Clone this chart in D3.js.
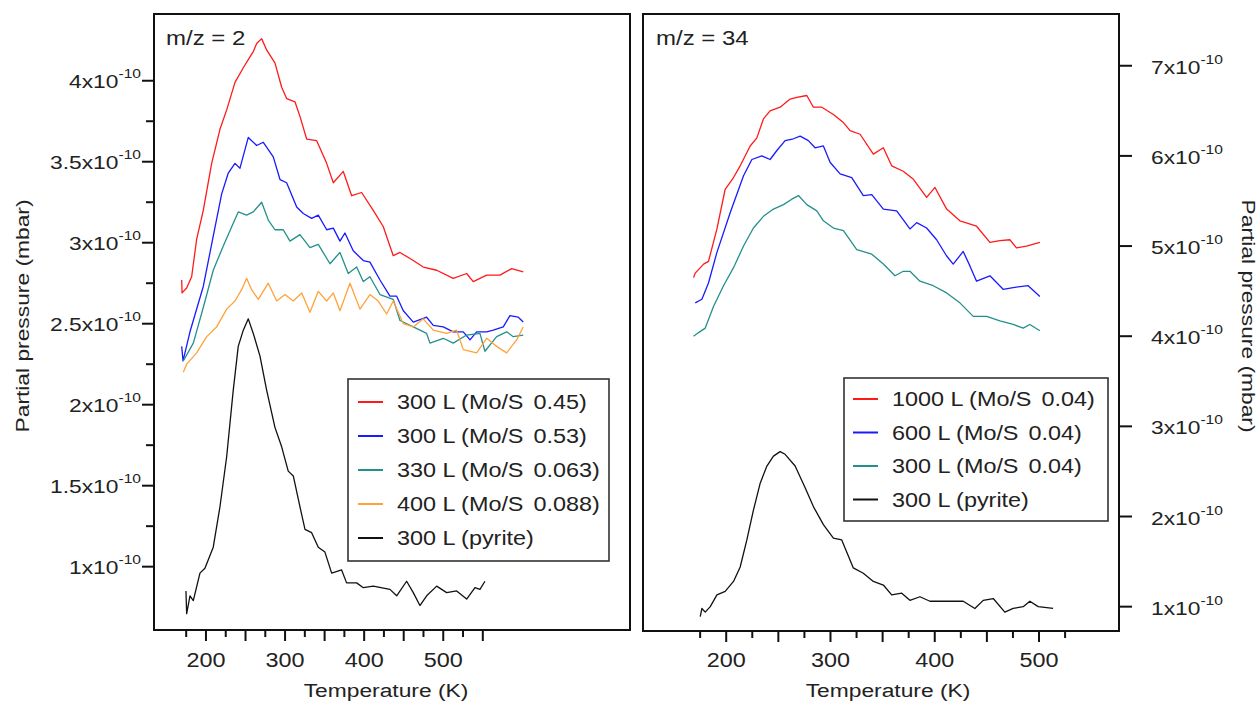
<!DOCTYPE html>
<html>
<head>
<meta charset="utf-8">
<script src="https://cdn.jsdelivr.net/npm/d3@7"></script>
<style>
  body { margin: 0; background: #fff; }
  svg { display: block; }
  text { font-family: "Liberation Sans", Arial, sans-serif; fill: #222; }
</style>
</head>
<body>
<svg id="chart" width="1259" height="704"></svg>
<script>
// TPD traces: [temperature K, partial pressure in units of 1e-10 mbar]

// m/z = 2
const m2Mo045 = [[169.3,2.77],[169.8,2.69],[175.6,2.72],[181.9,2.79],[188.2,3.02],[196.6,3.20],[207.2,3.49],[217.7,3.70],[226.2,3.82],[236.7,3.99],[247.2,4.08],[253.5,4.13],[259.8,4.18],[264.1,4.23],[270.4,4.26],[276.7,4.19],[287.2,4.11],[295.7,3.96],[302,3.89],[312.5,3.87],[318.8,3.78],[327.3,3.64],[340,3.63],[352.6,3.49],[361,3.37],[373.6,3.44],[384.2,3.29],[396.8,3.31],[411.5,3.20],[424.1,3.10],[436.8,2.92],[445.3,2.94],[462.1,2.89],[474.7,2.85],[491.7,2.83],[512.6,2.78],[529.6,2.81],[537.9,2.76],[554.9,2.80],[571.7,2.80],[586.5,2.84],[601.1,2.82]];
const m2Mo053 = [[169.3,2.36],[171,2.27],[179.8,2.45],[196.6,2.73],[209.2,3.04],[219.8,3.30],[228.2,3.43],[236.7,3.49],[243,3.46],[253.5,3.65],[264.1,3.60],[272.5,3.62],[285.1,3.53],[293.6,3.39],[302,3.37],[314.7,3.22],[323,3.18],[333.6,3.15],[342,3.17],[352.6,3.08],[361,3.09],[369.4,3.01],[375.7,3.06],[386.2,2.95],[398.9,2.89],[407.3,2.88],[420,2.77],[432.6,2.67],[441.1,2.67],[449.5,2.58],[462.1,2.51],[479,2.54],[487.4,2.49],[500,2.48],[512.6,2.45],[525.3,2.45],[533.8,2.40],[542.2,2.45],[554.9,2.45],[563.2,2.46],[575.9,2.48],[584.3,2.55],[594.8,2.54],[601.1,2.51]];
const m2Mo063 = [[171.3,2.27],[184,2.38],[196.6,2.60],[209.2,2.83],[221.9,2.98],[234.5,3.12],[240.8,3.19],[251.4,3.17],[259.8,3.19],[270.4,3.25],[278.8,3.14],[287.2,3.08],[297.7,3.08],[306.2,3.01],[318.8,3.05],[331.5,2.97],[342,2.99],[356.8,2.87],[369.4,2.94],[379.9,2.81],[390.5,2.85],[398.9,2.76],[407.3,2.79],[420,2.68],[436.8,2.65],[445.3,2.52],[462.1,2.48],[479,2.44],[483.2,2.38],[500,2.41],[512.6,2.38],[529.6,2.43],[546.4,2.44],[552.7,2.33],[567.5,2.42],[580.1,2.45],[588.5,2.42],[601.1,2.43]];
const m2Mo088 = [[171.3,2.20],[175.6,2.25],[188.2,2.32],[200.9,2.42],[213.5,2.48],[226.2,2.59],[236.7,2.64],[245.1,2.71],[251.4,2.78],[257.8,2.71],[266.1,2.65],[278.8,2.75],[289.4,2.64],[299.9,2.68],[310.4,2.64],[321,2.69],[331.5,2.57],[342,2.70],[352.6,2.64],[361,2.69],[369.4,2.58],[382.1,2.75],[394.7,2.59],[407.3,2.68],[417.8,2.64],[428.4,2.56],[436.8,2.64],[449.5,2.50],[462.1,2.48],[474.7,2.53],[487.4,2.46],[504.3,2.44],[516.9,2.46],[525.3,2.34],[542.2,2.32],[554.9,2.41],[567.5,2.36],[580.1,2.32],[592.8,2.40],[601.1,2.48]];
const m2Pyrite = [[174.7,0.85],[175.6,0.71],[179.8,0.82],[184,0.79],[192.4,0.96],[198.7,0.99],[209.2,1.12],[217.7,1.37],[226.2,1.68],[234.5,2.09],[240.8,2.36],[247.2,2.46],[253.5,2.53],[259.8,2.44],[268.3,2.30],[276.7,2.09],[287.2,1.86],[295.7,1.74],[304,1.59],[310.4,1.56],[318.8,1.37],[325.2,1.23],[333.6,1.21],[342,1.12],[350.4,1.09],[358.9,0.96],[371.5,0.98],[377.8,0.90],[390.5,0.90],[398.9,0.87],[411.5,0.88],[432.6,0.86],[441.1,0.82],[453.7,0.91],[462.1,0.84],[470.5,0.76],[479,0.82],[491.7,0.88],[504.3,0.84],[516.9,0.85],[529.6,0.80],[540.1,0.87],[546.4,0.86],[552.7,0.91]];

// m/z = 34
const m34L1000 = [[168.7,4.65],[170.3,4.70],[178.3,4.80],[183,4.83],[191.1,5.19],[199,5.63],[207,5.76],[213.4,5.89],[223,6.11],[229.4,6.20],[235.7,6.41],[242.1,6.50],[251.7,6.54],[261.3,6.63],[267.7,6.65],[277.3,6.67],[283.6,6.54],[291.7,6.54],[302.8,6.46],[312.4,6.37],[318.8,6.28],[328.4,6.24],[341.1,6.02],[350.7,6.09],[358.7,5.89],[369.8,5.83],[379.5,5.74],[392.2,5.54],[400.2,5.65],[411.4,5.41],[424.1,5.28],[440.1,5.22],[452.9,5.04],[462.5,5.06],[472,5.07],[478.4,4.98],[488,5.00],[500.8,5.04]];
const m34L600 = [[170.3,4.37],[176.7,4.41],[183,4.59],[191.1,4.93],[203.8,5.37],[216.6,5.78],[224.6,5.96],[234.2,6.00],[242.1,5.96],[248.6,6.06],[256.5,6.17],[264.5,6.19],[270.9,6.22],[278.8,6.17],[285.2,6.09],[293.2,6.11],[299.6,5.93],[309.2,5.80],[320.4,5.76],[331.5,5.56],[339.6,5.57],[350.7,5.41],[363.5,5.39],[376.2,5.19],[382.7,5.26],[392.2,5.20],[401.8,5.07],[411.4,4.89],[417.7,4.80],[427.3,4.94],[433.7,4.78],[440.1,4.61],[452.9,4.67],[465.6,4.52],[475.2,4.54],[489.6,4.56],[500.8,4.44]];
const m34L300 = [[168.7,4.00],[173.5,4.04],[179.9,4.09],[187.8,4.33],[197.4,4.56],[207,4.76],[216.6,5.00],[226.1,5.20],[235.7,5.33],[245.3,5.41],[254.9,5.46],[262.9,5.52],[269.3,5.56],[277.3,5.46],[286.9,5.39],[293.2,5.28],[302.8,5.20],[312.4,5.17],[325.2,4.96],[339.6,4.91],[350.7,4.80],[361.9,4.67],[369.8,4.72],[376.2,4.72],[385.8,4.61],[398.6,4.56],[411.4,4.48],[424.1,4.37],[436.9,4.22],[449.7,4.22],[462.5,4.17],[475.2,4.13],[484.8,4.09],[491.2,4.13],[500.8,4.06]];
const m34Pyrite = [[175.1,0.89],[176.7,0.98],[179.9,0.94],[184.7,1.00],[191.1,1.13],[199,1.17],[207,1.28],[213.4,1.44],[219.8,1.74],[226.1,2.07],[232.6,2.37],[239,2.56],[245.3,2.67],[251.7,2.72],[256.5,2.69],[266.1,2.56],[275.7,2.32],[283.6,2.11],[293.2,1.91],[302.8,1.76],[310.8,1.74],[321.9,1.43],[331.5,1.37],[341.1,1.28],[350.7,1.24],[358.7,1.13],[368.3,1.15],[376.2,1.07],[385.8,1.11],[395.4,1.06],[411.4,1.06],[427.3,1.06],[438.5,0.98],[446.5,1.07],[456.1,1.09],[467.2,0.94],[475.2,0.98],[484.8,1.00],[491.2,1.06],[499.2,1.00],[513.5,0.98]];

// legend entries: [dose, sample] -> "dose (sample)"
const m2Labels = [['300 L (Mo/S', '0.45)'], ['300 L (Mo/S', '0.53)'], ['330 L (Mo/S', '0.063)'], ['400 L (Mo/S', '0.088)'], ['300 L (pyrite)', '']];
const m34Labels = [['1000 L (Mo/S', '0.04)'], ['600 L (Mo/S', '0.04)'], ['300 L (Mo/S', '0.04)'], ['300 L (pyrite)', '']];
const m2Colors = ['#ff1a1a', '#1a1aff', '#23908c', '#ffa23a', '#111'];
const m34Colors = ['#ff1a1a', '#1a1aff', '#23908c', '#111'];

const xLabelTicks = [200, 300, 400, 500];
const m2YTicks = [1, 1.5, 2, 2.5, 3, 3.5, 4];
const m2YMinor = [1.25, 1.75, 2.25, 2.75, 3.25, 3.75];
const m34YTicks = [1, 2, 3, 4, 5, 6, 7];

const SX = 1.2;           // horizontal stretch of the lettering
const FS = 19;

const svg = d3.select('#chart');

function txt(g, x, y, str, o = {}) {
  const t = g.append('text')
    .attr('transform', `translate(${x},${y}) rotate(${o.rot || 0}) scale(${SX},1)`)
    .attr('font-size', o.size || FS)
    .attr('text-anchor', o.anchor || 'start');
  if (str != null) t.text(str);
  return t;
}

const panels = [
  {
    frame: [154, 14, 630, 630], xDom: [134.3, 736.1], yDom: [0.609, 4.412],
    xTicks: d3.range(175, 551, 25), yTicks: m2YTicks, yMinor: m2YMinor, side: 'left',
    series: [m2Mo045, m2Mo053, m2Mo063, m2Mo088, m2Pyrite], labels: m2Labels, colors: m2Colors,
    title: 'm/z = 2', titleX: 166, xTitleX: 386, yTitleX: 29,
    legend: { box: [348, 379, 609, 561], y0: 402, dy: 34, lx: 358, tx: 397 }
  },
  {
    frame: [643, 14, 1119, 631], xDom: [120.2, 576.7], yDom: [0.73, 7.574],
    xTicks: d3.range(175, 526, 25), yTicks: m34YTicks, yMinor: [], side: 'right',
    series: [m34L1000, m34L600, m34L300, m34Pyrite], labels: m34Labels, colors: m34Colors,
    title: 'm/z = 34', titleX: 656, xTitleX: 888, yTitleX: 1242,
    legend: { box: [844, 378, 1108, 521], y0: 399, dy: 33.5, lx: 853, tx: 892 }
  }
];

panels.forEach(p => {
  const [x0, y0, x1, y1] = p.frame;
  const x = d3.scaleLinear().domain(p.xDom).range([x0, x1]);
  const y = d3.scaleLinear().domain(p.yDom).range([y1, y0]);
  const g = svg.append('g');

  // curves
  const line = d3.line().x(d => x(d[0])).y(d => y(d[1]));
  p.series.forEach((s, i) => {
    g.append('path').attr('d', line(s))
      .attr('fill', 'none').attr('stroke', p.colors[i])
      .attr('stroke-width', 1.3).attr('stroke-linejoin', 'round');
  });

  // frame
  g.append('rect').attr('x', x0).attr('y', y0).attr('width', x1 - x0).attr('height', y1 - y0)
    .attr('fill', 'none').attr('stroke', '#111').attr('stroke-width', 2);

  // x axis ticks
  const ax = g.append('g');
  p.xTicks.forEach(t => {
    const len = t % 50 === 0 ? 11 : 7;
    ax.append('line').attr('x1', x(t)).attr('x2', x(t)).attr('y1', y1).attr('y2', y1 + len)
      .attr('stroke', '#111').attr('stroke-width', 2);
  });
  xLabelTicks.forEach(t => txt(ax, x(t), 667, t, { anchor: 'middle', size: 19.5 }));
  txt(ax, p.xTitleX, 697, 'Temperature (K)', { anchor: 'middle' });

  // y axis ticks
  const ay = g.append('g');
  const left = p.side === 'left';
  const ex = left ? x0 : x1;
  p.yTicks.forEach(t => {
    ay.append('line').attr('x1', ex).attr('x2', left ? ex - 12 : ex + 13)
      .attr('y1', y(t)).attr('y2', y(t)).attr('stroke', '#111').attr('stroke-width', 2);
    const lab = left ? txt(ay, 141, y(t) + 7, null, { anchor: 'end' })
                     : txt(ay, 1151, y(t) + 8, null);
    lab.append('tspan').text(t + 'x10');
    lab.append('tspan').attr('font-size', 13).attr('dy', -10).text('-10');
  });
  p.yMinor.forEach(t => {
    ay.append('line').attr('x1', ex).attr('x2', left ? ex - 8 : ex + 8)
      .attr('y1', y(t)).attr('y2', y(t)).attr('stroke', '#111').attr('stroke-width', 2);
  });
  txt(ay, p.yTitleX, 316, 'Partial pressure (mbar)', { anchor: 'middle', rot: left ? -90 : 90 });

  // title
  txt(g, p.titleX, 45, p.title, { size: 20 });

  // legend
  const L = p.legend;
  const lg = g.append('g');
  lg.append('rect').attr('x', L.box[0]).attr('y', L.box[1])
    .attr('width', L.box[2] - L.box[0]).attr('height', L.box[3] - L.box[1])
    .attr('fill', '#fff').attr('stroke', '#333').attr('stroke-width', 1.6);
  p.labels.forEach((lab, i) => {
    const ly = L.y0 + i * L.dy;
    lg.append('line').attr('x1', L.lx).attr('x2', L.lx + 25).attr('y1', ly).attr('y2', ly)
      .attr('stroke', p.colors[i]).attr('stroke-width', 2);
    const t = txt(lg, L.tx, ly + 7, null, { size: 19.5 });
    t.append('tspan').text(lab[0]);
    if (lab[1]) t.append('tspan').attr('dx', 3).text(' ' + lab[1]);
  });
});
</script>
</body>
</html>
